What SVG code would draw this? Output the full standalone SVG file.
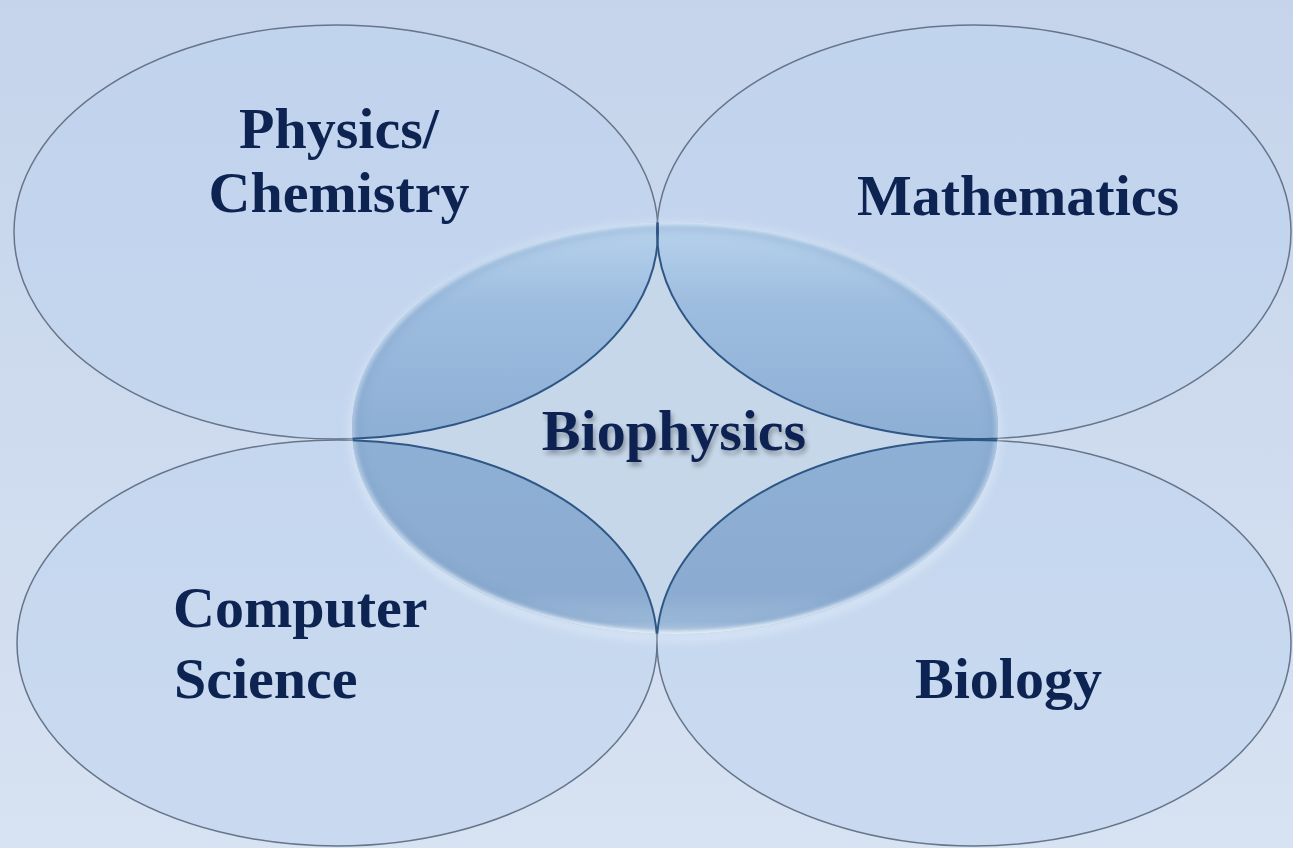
<svg xmlns="http://www.w3.org/2000/svg" width="1293" height="848" viewBox="0 0 1293 848">
  <defs>
    <style>
      .big { fill: #bdd4ee; fill-opacity: 0.55; stroke: #66758a; stroke-width: 1.5; }
      .lens { fill: url(#lensGrad); }
      .inner { fill: none; stroke: #2f5786; stroke-width: 2; }
      .lbl { font-family: "Liberation Serif", "Times New Roman", serif; font-weight: bold; font-size: 58px; fill: #0d2452; }
    </style>
    <linearGradient id="bg" x1="0" y1="0" x2="0" y2="1">
      <stop offset="0" stop-color="#c5d4eb"/>
      <stop offset="1" stop-color="#d7e2f2"/>
    </linearGradient>
    <linearGradient id="lensGrad" gradientUnits="userSpaceOnUse" x1="0" y1="222" x2="0" y2="634">
      <stop offset="0" stop-color="#b9d3ec"/>
      <stop offset="0.2" stop-color="#9dbde0"/>
      <stop offset="0.5" stop-color="#8fb0d5"/>
      <stop offset="0.9" stop-color="#8babd0"/>
      <stop offset="0.97" stop-color="#9ab8d8"/>
      <stop offset="1" stop-color="#c4d8ec"/>
    </linearGradient>
    <linearGradient id="rimGrad" gradientUnits="userSpaceOnUse" x1="0" y1="222" x2="0" y2="634">
      <stop offset="0" stop-color="#e2eef9" stop-opacity="0.9"/>
      <stop offset="0.5" stop-color="#d6e5f3" stop-opacity="0.5"/>
      <stop offset="1" stop-color="#eef5fc" stop-opacity="1"/>
    </linearGradient>
    <clipPath id="cClip">
      <ellipse cx="675" cy="428" rx="323" ry="206"/>
    </clipPath>
    <filter id="blur2" x="-10%" y="-10%" width="120%" height="120%">
      <feGaussianBlur stdDeviation="2"/>
    </filter>
    <filter id="blur4" x="-10%" y="-10%" width="120%" height="120%">
      <feGaussianBlur stdDeviation="4"/>
    </filter>
    <filter id="txtShadow" x="-10%" y="-30%" width="125%" height="170%">
      <feGaussianBlur in="SourceAlpha" stdDeviation="2.5"/>
      <feOffset dx="2" dy="4" result="b"/>
      <feComponentTransfer><feFuncA type="linear" slope="0.32"/></feComponentTransfer>
      <feMerge><feMergeNode/><feMergeNode in="SourceGraphic"/></feMerge>
    </filter>
  </defs>

  <rect width="1293" height="848" fill="url(#bg)"/>

  <g id="node-physics-chemistry">
    <ellipse class="big" cx="336" cy="232" rx="322" ry="207"/>
  </g>
  <g id="node-mathematics">
    <ellipse class="big" cx="974" cy="232" rx="317" ry="207"/>
  </g>
  <g id="node-computer-science">
    <ellipse class="big" cx="337" cy="643" rx="320" ry="203"/>
  </g>
  <g id="node-biology">
    <ellipse class="big" cx="974" cy="643" rx="317" ry="203"/>
  </g>

  <g id="node-biophysics">
    <ellipse cx="675" cy="432" rx="322" ry="206" fill="none" stroke="#eaf2fb" stroke-width="6" opacity="0.6" filter="url(#blur4)"/>
    <ellipse cx="675" cy="428" rx="323" ry="206" fill="#c6d7e9"/>
    <g clip-path="url(#cClip)">
      <ellipse class="lens" cx="336" cy="232" rx="322" ry="207"/>
      <ellipse class="lens" cx="974" cy="232" rx="317" ry="207"/>
      <ellipse class="lens" cx="337" cy="643" rx="320" ry="203"/>
      <ellipse class="lens" cx="974" cy="643" rx="317" ry="203"/>
      <ellipse cx="675" cy="428" rx="320" ry="203" fill="none" stroke="#7a9cc4" stroke-width="10" opacity="0.35" filter="url(#blur4)"/>
      <ellipse cx="675" cy="428" rx="323" ry="206" fill="none" stroke="url(#rimGrad)" stroke-width="5" filter="url(#blur2)"/>
      <ellipse class="inner" cx="336" cy="232" rx="322" ry="207"/>
      <ellipse class="inner" cx="974" cy="232" rx="317" ry="207"/>
      <ellipse class="inner" cx="337" cy="643" rx="320" ry="203"/>
      <ellipse class="inner" cx="974" cy="643" rx="317" ry="203"/>
    </g>
    <text class="lbl" x="674" y="450" text-anchor="middle" filter="url(#txtShadow)">Biophysics</text>
  </g>

  <g id="labels">
    <text class="lbl" x="339" y="148" text-anchor="middle">Physics/</text>
    <text class="lbl" x="339" y="212" text-anchor="middle">Chemistry</text>
    <text class="lbl" x="857" y="215">Mathematics</text>
    <text class="lbl" x="173" y="627">Computer</text>
    <text class="lbl" x="174" y="698">Science</text>
    <text class="lbl" x="915" y="698">Biology</text>
  </g>

  <g id="connectors"/>
</svg>
